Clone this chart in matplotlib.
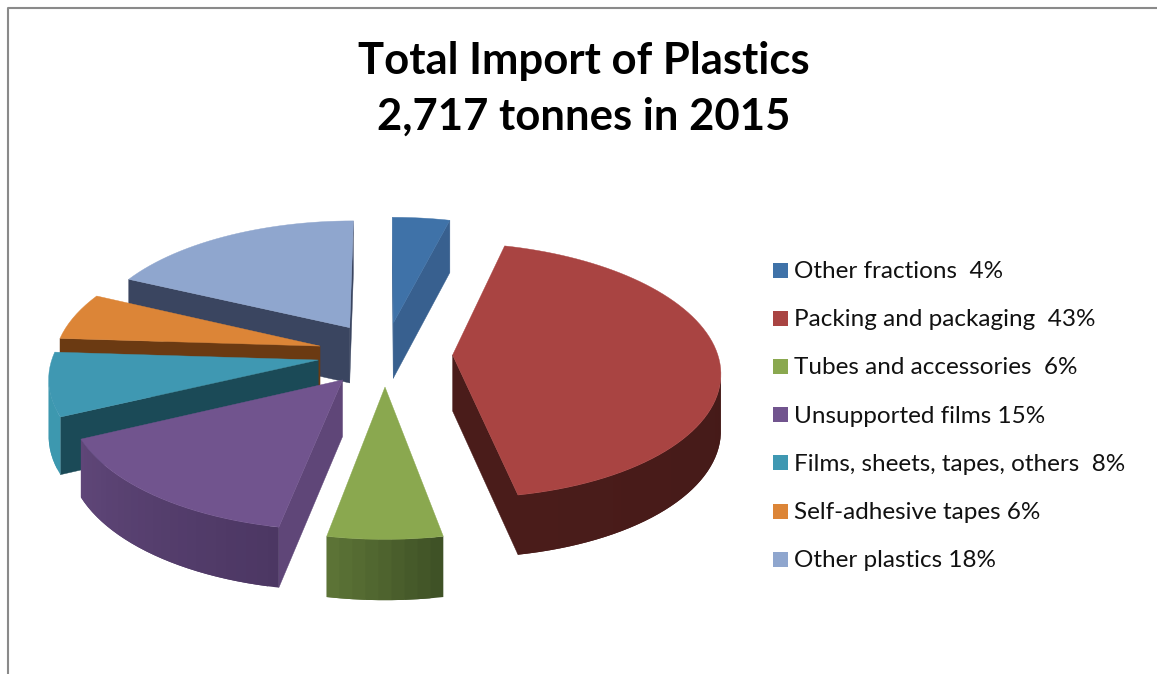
import numpy as np
import matplotlib
matplotlib.use('Agg')
import matplotlib.pyplot as plt
from matplotlib.patches import Rectangle
from matplotlib.colors import to_rgb

plt.rcParams['font.family'] = ['Lato', 'DejaVu Sans']

title = 'Total Import of Plastics\n2,717 tonnes in 2015'
names = ['Other fractions  ', 'Packing and packaging  ', 'Tubes and accessories  ',
         'Unsupported films ', 'Films, sheets, tapes, others  ', 'Self-adhesive tapes ',
         'Other plastics ']
shares = [4, 43, 6, 15, 8, 6, 18]

top_colors = ['#3F72A8', '#A94442', '#8AA84F', '#71548E', '#3F98B2', '#DC8537', '#8FA6CE']
cut_colors = ['#38608F', '#4A1C1A', '#5C7336', '#5F4678', '#1B4A57', '#6B3A12', '#3A4560']
# rim shade at the start and the end of each slice
rim_colors = [('#38608F', '#38608F'), ('#3F1816', '#4A1C1A'), ('#3F5226', '#5C7336'),
              ('#4C3763', '#5F4678'), ('#3D98AF', '#3D98AF'), ('#6B3A12', '#6B3A12'),
              ('#3A4560', '#3A4560')]
# back slices first so the nearer ones paint over them
draw_order = [0, 6, 5, 1, 4, 3, 2]

CX, CY = 385, 354
RX, RY = 265, 125.5
PERSP = 0.12
EXPLODE = 0.255
DEPTH = 56


def project(u, v):
    s = 1 / (1 - PERSP * v)
    return CX + RX * u * s, CY + RY * v * s, DEPTH * np.sqrt(s)


def mix(a, b, t):
    a, b = np.array(to_rgb(a)), np.array(to_rgb(b))
    return tuple(a + (b - a) * t)


def draw_slice(ax, start, end, top, cut, rim):
    mid = (start + end) / 2
    ou, ov = EXPLODE * np.sin(mid), -EXPLODE * np.cos(mid)
    n = max(6, int(np.degrees(end - start) / 2))
    theta = np.linspace(start, end, n)
    xs, ys, ds = project(ou + np.sin(theta), ov - np.cos(theta))
    ax0, ay0, ad0 = project(ou, ov)

    # straight cut faces, an edge heading left on screen faces the viewer
    for a, b in [((ax0, ay0, ad0), (xs[0], ys[0], ds[0])),
                 ((xs[-1], ys[-1], ds[-1]), (ax0, ay0, ad0))]:
        if b[0] < a[0]:
            ax.fill([a[0], b[0], b[0], a[0]],
                    [a[1], b[1], b[1] + b[2], a[1] + a[2]], color=cut, lw=0.3)

    # rim strips run one step under the next strip so no seam shows between them
    for i in range(n - 1):
        if xs[i + 1] >= xs[i]:
            continue
        j = min(i + 3, n)
        ax.fill(np.r_[xs[i:j], xs[i:j][::-1]],
                np.r_[ys[i:j], (ys[i:j] + ds[i:j])[::-1]],
                color=mix(rim[0], rim[1], i / (n - 2)), lw=0)

    ax.fill(np.r_[ax0, xs], np.r_[ay0, ys], color=top, lw=0.3)


fig = plt.figure(figsize=(11.57, 6.74), dpi=100)
ax = fig.add_axes([0, 0, 1, 1])
ax.set_xlim(0, 1157)
ax.set_ylim(674, 0)
ax.axis('off')

# chart frame, only the top and left edges are in view
ax.plot([8, 8, 1157], [674, 8, 8], color='#8A8A8A', lw=1.5)

edges = np.radians(np.r_[0, np.cumsum(shares)] * 3.6)
for i in draw_order:
    draw_slice(ax, edges[i], edges[i + 1], top_colors[i], cut_colors[i], rim_colors[i])

ax.text(584, 130, title, ha='center', va='baseline', multialignment='center',
        fontsize=31.4, fontweight='bold', color='black', linespacing=1.49)

for i, (name, share) in enumerate(zip(names, shares)):
    y = 270 + i * 48.2
    ax.add_patch(Rectangle((773, y - 7.5), 15, 15, color=top_colors[i], lw=0))
    ax.text(794.5, y + 8, f'{name}{share}%', ha='left', va='baseline', fontsize=17.5, color='#111111')

fig.savefig('out.png', dpi=100)
